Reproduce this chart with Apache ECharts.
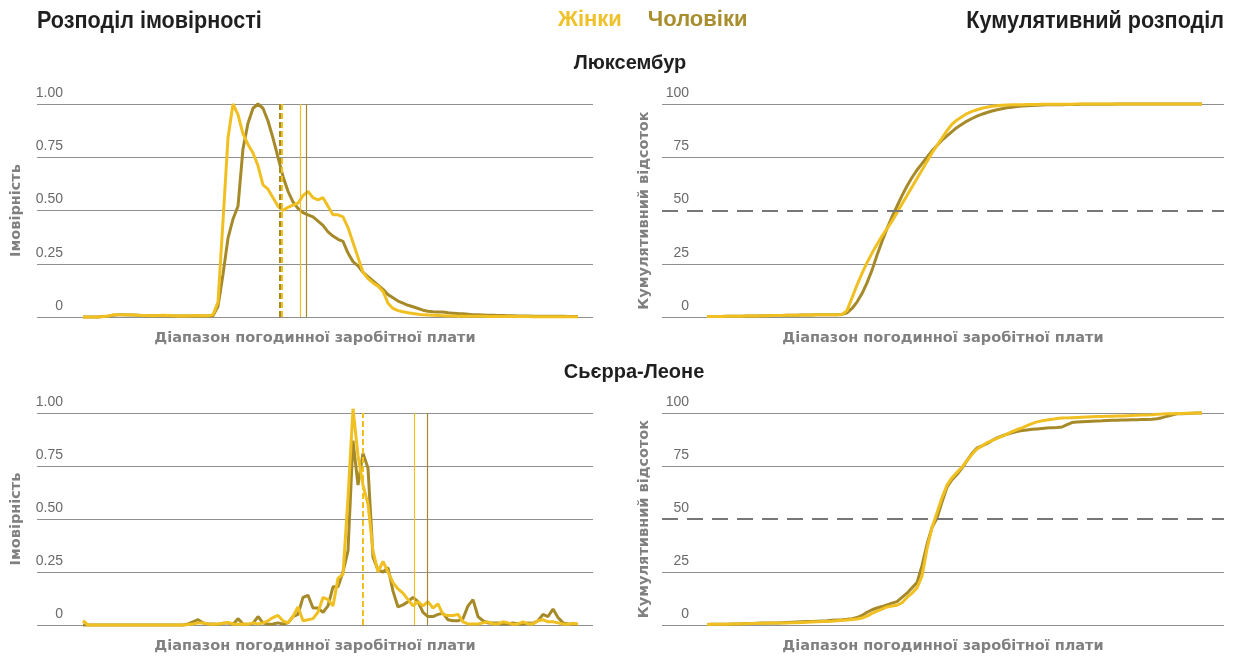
<!DOCTYPE html>
<html><head><meta charset="utf-8">
<script src="https://cdn.jsdelivr.net/npm/echarts@6/dist/echarts.min.js"></script>
<style>html,body{margin:0;padding:0;background:#fff}#c{width:1234px;height:657px}</style>
</head><body><div id="c"></div>
<script>
// ---- Data ----
const seriesNames = ['Жінки', 'Чоловіки'];
const probTickLabels = ['0', '0.25', '0.50', '0.75', '1.00'];
const cumTickLabels = ['0', '25', '50', '75', '100'];
const countryNames = ['Люксембур', 'Сьєрра-Леоне'];
const panelTitles = ['Розподіл імовірності', 'Кумулятивний розподіл'];

// Luxembourg – probability (100 wage bins)
const luxWomenProb = [0,0,0,0,0.002,0.005,0.01,0.01,0.01,0.01,
 0.01,0.008,0.007,0.007,0.006,0.007,0.008,0.007,0.006,0.005,
 0.006,0.005,0.006,0.007,0.006,0.006,0.01,0.07,0.45,0.84,
 1.0,0.95,0.86,0.81,0.77,0.71,0.62,0.6,0.56,0.52,
 0.5,0.515,0.525,0.535,0.57,0.59,0.56,0.55,0.56,0.52,
 0.48,0.48,0.47,0.42,0.35,0.28,0.21,0.18,0.16,0.145,
 0.12,0.065,0.04,0.03,0.025,0.02,0.016,0.013,0.01,0.009,
 0.008,0.007,0.006,0.005,0.005,0.004,0.004,0.004,0.003,0.003,
 0.003,0.002,0.002,0.002,0.002,0.002,0.002,0.002,0.002,0.002,
 0.001,0.001,0.001,0.001,0.001,0.001,0.001,0.001,0.001,0.001];
const luxMenProb = [0,0,0,0,0.002,0.004,0.008,0.01,0.01,0.009,
 0.009,0.008,0.007,0.006,0.006,0.006,0.007,0.006,0.005,0.005,
 0.005,0.005,0.005,0.006,0.005,0.005,0.006,0.05,0.2,0.37,
 0.46,0.52,0.79,0.91,0.98,1.0,0.98,0.92,0.84,0.75,
 0.66,0.59,0.54,0.51,0.49,0.48,0.47,0.45,0.43,0.4,
 0.38,0.365,0.355,0.3,0.26,0.24,0.21,0.19,0.17,0.15,
 0.13,0.105,0.09,0.075,0.065,0.055,0.048,0.04,0.032,0.027,
 0.025,0.024,0.023,0.02,0.018,0.016,0.015,0.013,0.011,0.01,
 0.009,0.008,0.008,0.007,0.007,0.006,0.006,0.005,0.005,0.005,
 0.004,0.004,0.004,0.003,0.003,0.003,0.003,0.002,0.002,0.002];
// Luxembourg – cumulative %
const luxWomenCum = [0.2,0.2,0.2,0.2,0.3,0.3,0.4,0.4,0.5,0.5,
 0.5,0.6,0.6,0.7,0.7,0.7,0.8,0.8,0.8,0.9,
 0.9,0.9,1.0,1.0,1.0,1.1,1.1,1.2,3,9,
 15,20.5,25.5,30,34,38,41.5,45,49,53,
 57,61,65,69,73,77,80.5,84,87.5,90.5,
 92.5,94,95.5,96.5,97.3,98,98.5,98.9,99.2,99.4,
 99.5,99.6,99.7,99.7,99.8,99.8,99.8,99.9,99.9,99.9,
 99.9,99.9,99.9,99.9,100,100,100,100,100,100,
 100,100,100,100,100,100,100,100,100,100,
 100,100,100,100,100,100,100,100,100,100];
const luxMenCum = [0.2,0.2,0.2,0.2,0.3,0.3,0.4,0.4,0.5,0.5,
 0.5,0.6,0.6,0.7,0.7,0.7,0.8,0.8,0.8,0.9,
 0.9,0.9,1.0,1.0,1.0,1.1,1.1,1.2,2,4,
 7,11,16,22,29,35.5,41.5,47,52,57,
 61.5,65.5,69,72,75,78,80.5,83,85,87,
 89,90.5,92,93.2,94.3,95.2,96,96.7,97.3,97.8,
 98.2,98.5,98.8,99,99.2,99.3,99.4,99.5,99.6,99.6,
 99.7,99.7,99.8,99.8,99.8,99.9,99.9,99.9,99.9,99.9,
 99.9,99.9,100,100,100,100,100,100,100,100,
 100,100,100,100,100,100,100,100,100,100];

// Sierra Leone – probability
const slWomenProb = [0.02,0,0,0,0,0,0,0,0,0,
 0,0,0,0,0,0,0,0,0,0,
 0,0.002,0.005,0.01,0.01,0.005,0.003,0.005,0.008,0.012,
 0.005,0.003,0.005,0.003,0.01,0.005,0.01,0.02,0.035,0.045,
 0.02,0.01,0.04,0.085,0.02,0.025,0.03,0.06,0.13,0.12,
 0.09,0.22,0.24,0.6,1.02,0.8,0.66,0.57,0.35,0.25,
 0.3,0.25,0.2,0.17,0.15,0.12,0.09,0.11,0.09,0.11,
 0.08,0.1,0.05,0.045,0.045,0.05,0.015,0.005,0.005,0.005,
 0.01,0.015,0.005,0.005,0.015,0.01,0.003,0.005,0.015,0.005,
 0.005,0.02,0.025,0.015,0.015,0.01,0.005,0.003,0.008,0.005];
const slMenProb = [0,0,0,0,0,0,0,0,0,0,
 0,0,0,0,0,0,0,0,0,0,
 0,0.005,0.015,0.025,0.01,0.005,0.005,0.003,0.008,0.01,
 0.003,0.03,0.005,0.003,0.008,0.04,0.01,0.003,0.005,0.01,
 0.005,0.01,0.04,0.05,0.13,0.14,0.08,0.08,0.06,0.09,
 0.18,0.18,0.25,0.35,0.87,0.66,0.81,0.74,0.32,0.26,
 0.25,0.27,0.16,0.085,0.095,0.11,0.13,0.11,0.06,0.04,
 0.04,0.05,0.055,0.025,0.02,0.02,0.03,0.09,0.12,0.04,
 0.02,0.01,0.01,0.01,0.005,0.005,0.01,0.005,0.005,0.01,
 0.008,0.02,0.05,0.04,0.075,0.035,0.01,0.005,0.005,0.002];
// Sierra Leone – cumulative %
const slWomenCum = [0.2,0.3,0.3,0.4,0.4,0.5,0.5,0.6,0.6,0.7,
 0.7,0.8,0.8,0.9,0.9,1.0,1.0,1.1,1.1,1.2,
 1.3,1.4,1.5,1.6,1.7,1.8,2.0,2.2,2.4,2.6,
 2.8,3.3,4.2,5.5,6.5,7.5,8.5,9,9.3,10.5,
 13,15,17.5,23,36,46,53,60,66,69.5,
 72,74.5,77.5,80.5,83,84.5,86,87,88,89,
 90,91.2,92.2,93,94,95,95.8,96.3,96.7,97,
 97.4,97.6,97.7,97.8,97.9,98,98.1,98.2,98.3,98.4,
 98.5,98.5,98.6,98.6,98.7,98.8,98.9,99,99.1,99.2,
 99.4,99.5,99.7,99.7,99.8,99.8,99.9,99.9,100,100];
const slMenCum = [0.2,0.3,0.3,0.4,0.4,0.5,0.5,0.6,0.7,0.7,
 0.8,0.9,0.9,1.0,1.0,1.1,1.2,1.3,1.4,1.5,
 1.6,1.7,1.8,1.9,2.0,2.2,2.4,2.5,2.7,3.0,
 3.5,4.5,6,7.2,8,8.7,9.5,10.3,11,13,
 15,17.5,20,28,38,46,50.5,58,65,68.5,
 71,74,77.5,81,83.5,84.5,85.5,87,88.3,89.2,
 90,90.7,91.3,91.7,92,92.3,92.5,92.7,92.9,93.1,
 93.2,93.4,94.5,95.5,95.7,95.9,96,96.1,96.2,96.3,
 96.5,96.6,96.6,96.7,96.7,96.8,96.8,96.9,96.9,97,
 97.3,97.8,98.4,99,99.6,99.7,99.8,99.9,100,100];

// Median (dashed) and mean (solid) positions, in wage-bin units [women, men]
const luxMedian = [39.8, 39.4];
const luxMean = [43.5, 44.7];
const slMedian = [55.95, 55.85];
const slMean = [66.2, 68.9];

// ---- Styling ----
const womenColor = '#F0C022';
const menColor = '#A68A2A';
const gridColor = '#8f8f8f';
const sansFamily = '"Liberation Sans", Arial, sans-serif';
const xName = 'Діапазон погодинної заробітної плати';

const chart = echarts.init(document.getElementById('c'), null, {renderer: 'canvas'});

const grids = [
  {left: 37, width: 556, top: 104, height: 213},
  {left: 662, right: 10, top: 104, height: 213},
  {left: 37, width: 556, top: 413, height: 212},
  {left: 662, right: 10, top: 413, height: 212}
];

function toPairs(arr) { return arr.map((v, i) => [i, v]); }

const axisNameStyle = {color: '#808080', fontWeight: 'bold', fontSize: 14.5, fontFamily: '"DejaVu Sans", sans-serif'};

const xAxes = grids.map((g, k) => ({
  gridIndex: k, type: 'value',
  min: (k % 2 === 0) ? -9.2 : -9, max: (k % 2 === 0) ? 102 : 103.4,
  axisLine: {show: false}, axisTick: {show: false}, axisLabel: {show: false}, splitLine: {show: false},
  name: xName, nameLocation: 'middle', nameGap: 14, nameTextStyle: axisNameStyle
}));

const yAxes = grids.map((g, k) => {
  const isProb = k % 2 === 0;
  const labels = isProb ? probTickLabels : cumTickLabels;
  return {
    gridIndex: k, type: 'value', min: 0, max: isProb ? 1 : 100, interval: isProb ? 0.25 : 25,
    axisLine: {show: false}, axisTick: {show: false},
    axisLabel: {
      inside: true, margin: isProb ? 26 : 27, align: 'right', verticalAlign: 'bottom',
      color: '#6a6a6a', fontSize: 14, fontFamily: sansFamily, padding: [0, 0, 4, 0],
      formatter: (v) => labels[Math.round(v / (isProb ? 0.25 : 25))]
    },
    splitLine: {show: true, lineStyle: {color: isProb ? gridColor : [gridColor, gridColor, 'rgba(0,0,0,0)', gridColor, gridColor], width: 1}},
    name: isProb ? 'Імовірність' : 'Кумулятивний відсоток',
    nameLocation: 'middle', nameGap: isProb ? 13 : 10, nameRotate: 90, nameTextStyle: axisNameStyle
  };
});

function vLines(median, mean) {
  return [
    {xAxis: median[1], lineStyle: {color: menColor, type: [6, 3], width: 2}},
    {xAxis: median[0], lineStyle: {color: womenColor, type: [6, 3], width: 2}},
    {xAxis: mean[0], lineStyle: {color: womenColor, type: 'solid', width: 1.2}},
    {xAxis: mean[1], lineStyle: {color: menColor, type: 'solid', width: 1.2}}
  ];
}

function lineSeries(name, color, data, k, extra) {
  return Object.assign({
    type: 'line', name: name, xAxisIndex: k, yAxisIndex: k, data: toPairs(data),
    showSymbol: false, clip: false, lineStyle: {color: color, width: 3}, itemStyle: {color: color},
    z: name === seriesNames[0] ? 3 : 2, animation: false
  }, extra || {});
}

const halfLine = {
  markLine: {silent: true, symbol: 'none', label: {show: false},
    data: [{yAxis: 50}], lineStyle: {color: '#777', type: [16, 9], width: 2}}
};

function vLineMark(median, mean) {
  return {markLine: {silent: true, symbol: 'none', label: {show: false}, data: vLines(median, mean), animation: false}};
}

const series = [
  lineSeries(seriesNames[1], menColor, luxMenProb, 0, vLineMark(luxMedian, luxMean)),
  lineSeries(seriesNames[0], womenColor, luxWomenProb, 0),
  lineSeries(seriesNames[1], menColor, luxMenCum, 1, halfLine),
  lineSeries(seriesNames[0], womenColor, luxWomenCum, 1),
  lineSeries(seriesNames[1], menColor, slMenProb, 2, vLineMark(slMedian, slMean)),
  lineSeries(seriesNames[0], womenColor, slWomenProb, 2),
  lineSeries(seriesNames[1], menColor, slMenCum, 3, halfLine),
  lineSeries(seriesNames[0], womenColor, slWomenCum, 3)
];

const bigFont = 'bold 24px ' + sansFamily;
const countryFont = 'bold 20px ' + sansFamily;

chart.setOption({
  animation: false,
  graphic: [
    {type: 'text', x: 37, y: 9, scaleX: 0.9, silent: true,
      style: {text: panelTitles[0], font: bigFont, fill: '#1f1f1f', align: 'left', verticalAlign: 'top'}},
    {type: 'text', x: 1224, y: 9, scaleX: 0.9, silent: true,
      style: {text: panelTitles[1], font: bigFont, fill: '#1f1f1f', align: 'right', verticalAlign: 'top'}},
    {type: 'text', x: 630, y: 53, silent: true,
      style: {text: countryNames[0], font: countryFont, fill: '#1f1f1f', align: 'center', verticalAlign: 'top'}},
    {type: 'text', x: 634, y: 362, silent: true,
      style: {text: countryNames[1], font: countryFont, fill: '#1f1f1f', align: 'center', verticalAlign: 'top'}}
  ],
  legend: {
    left: 553, top: 9, icon: 'none', itemWidth: 0, itemGap: 21, padding: 0, selectedMode: false,
    data: [
      {name: seriesNames[0], textStyle: {color: '#EFC12A'}},
      {name: seriesNames[1], textStyle: {color: '#A88E2E'}}
    ],
    textStyle: {fontSize: 22, fontWeight: 'bold', fontFamily: sansFamily}
  },
  grid: grids,
  xAxis: xAxes,
  yAxis: yAxes,
  series: series
});
</script>
</body></html>
